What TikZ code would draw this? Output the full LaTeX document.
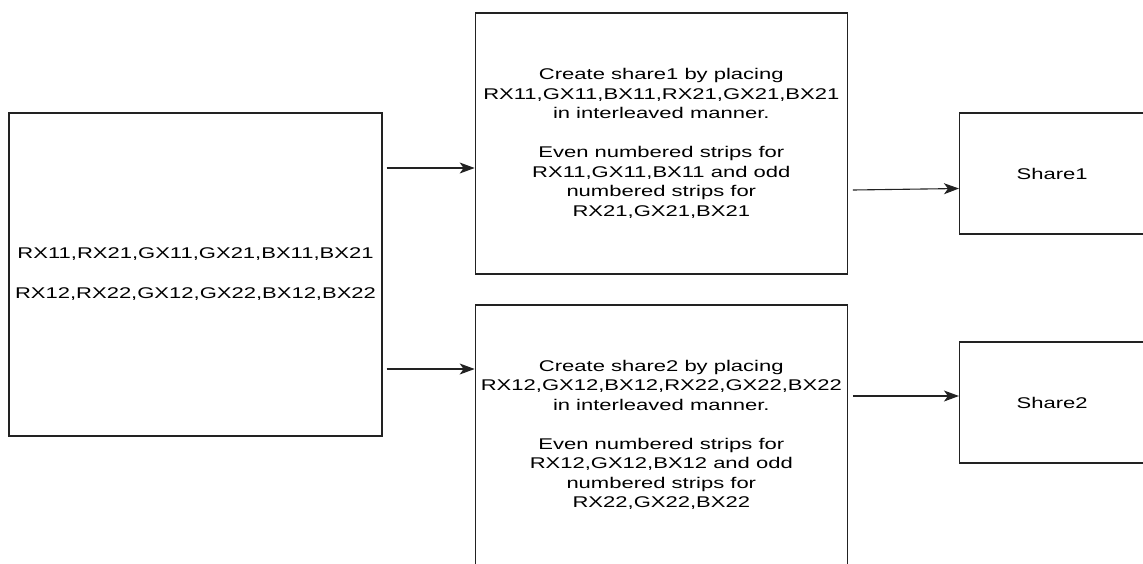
\documentclass[tikz,border=0pt]{standalone}
\usepackage{fontspec}
\setmainfont{Liberation Sans}[FakeStretch=1.42]
\usepackage{xcolor}
\usepackage{tikz}
\usetikzlibrary{positioning,arrows.meta}
\definecolor{ink}{HTML}{222222}

\begin{document}
\begin{tikzpicture}[
  x=1pt,y=-1pt,
  font=\fontsize{15.5}{19.5}\selectfont,
  >={Stealth[length=15pt,width=11pt,inset=4pt]},
  blk/.style={draw=ink,line width=1.3pt,text=black,align=center,inner sep=0pt},
  arr/.style={->,line width=1.1pt,ink}
]
\useasboundingbox (0,0) rectangle (1143,563);
% input
\node[blk,minimum width=373pt,minimum height=323pt] (input) at (195.5,274.5)
  {RX11,RX21,GX11,GX21,BX11,BX21\\[20.5pt]RX12,RX22,GX12,GX22,BX12,BX22};
% interleaving
\node[blk,minimum width=372pt,minimum height=261pt,right=92pt of input,yshift=131pt] (mixA)
  {Create share1 by placing\\RX11,GX11,BX11,RX21,GX21,BX21\\in interleaved manner.\\[19.5pt]Even numbered strips for\\RX11,GX11,BX11 and odd\\numbered strips for\\RX21,GX21,BX21};
\node[blk,minimum width=372pt,minimum height=260pt,right=92pt of input,yshift=-160.5pt] (mixB)
  {Create share2 by placing\\RX12,GX12,BX12,RX22,GX22,BX22\\in interleaved manner.\\[19.5pt]Even numbered strips for\\RX12,GX12,BX12 and odd\\numbered strips for\\RX22,GX22,BX22};
% shares
\node[blk,minimum width=185pt,minimum height=121pt,right=111pt of mixA,yshift=-30pt] (shareA) {Share1};
\node[blk,minimum width=185pt,minimum height=121pt,right=111pt of mixB,yshift=32.5pt] (shareB) {Share2};
% arrows
\draw[arr] ([xshift=4pt,yshift=106.5pt]input.east) -- ([yshift=-24.5pt]mixA.west);
\draw[arr] ([xshift=4pt,yshift=-94.5pt]input.east) -- ([yshift=66pt]mixB.west);
\draw[arr] ([xshift=5pt,yshift=-46.5pt]mixA.east) -- ([yshift=-15pt]shareA.west);
\draw[arr] ([xshift=5pt,yshift=39pt]mixB.east) -- ([yshift=6.5pt]shareB.west);
\end{tikzpicture}
\end{document}
